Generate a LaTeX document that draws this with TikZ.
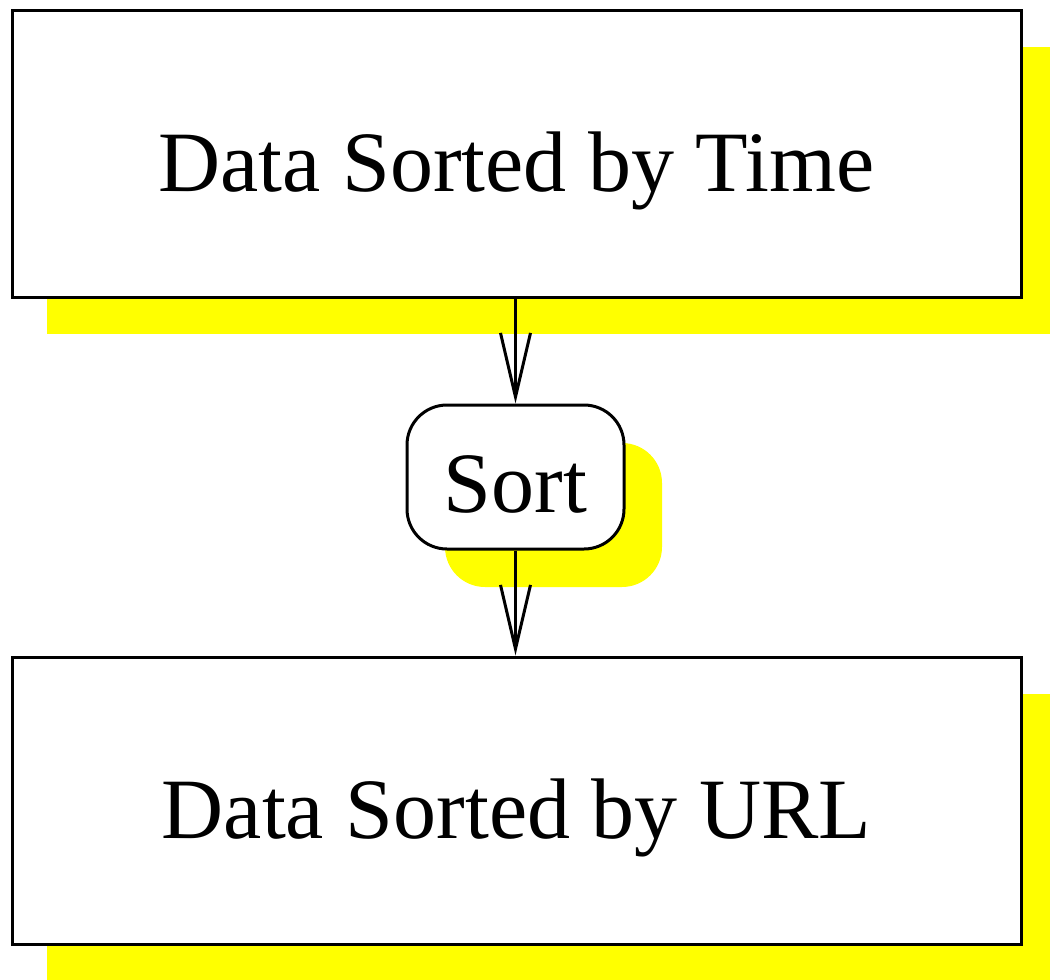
\documentclass[tikz,border=0pt]{standalone}
\usepackage{fontspec}
\setmainfont{Liberation Serif}
\usetikzlibrary{arrows.meta,shadows}
\definecolor{shadowyellow}{RGB}{255,255,0}
\begin{document}
\begin{tikzpicture}[x=0.75pt,y=-0.75pt,
  every node/.style={line width=2.25pt, draw=black, fill=white, inner sep=0pt,
    font=\fontsize{64.5}{70}\selectfont},
  databox/.style={rectangle, minimum width=756.75pt, minimum height=215.25pt,
    text height=57pt, text depth=0pt,
    drop shadow={shadow xshift=26.25pt, shadow yshift=-27.75pt, fill=shadowyellow, opacity=1}},
  procbox/.style={rectangle, rounded corners=30pt, minimum width=162.75pt, minimum height=108pt,
    text height=52.5pt, text depth=0pt,
    drop shadow={shadow xshift=28.5pt, shadow yshift=-28.5pt, fill=shadowyellow, opacity=1}},
  flow/.style={line width=2.25pt, -{Straight Barb[length=48pt, width=22.5pt, line width=2.25pt]}}
]
\useasboundingbox (0,0) rectangle (1050,979);
\node[databox] (time) at (516.5,153.5) {Data Sorted by Time};
\node[procbox] (sort) at (515.5,477) {Sort};
\node[databox] (url) at (516.5,800.5) {Data Sorted by URL};
\draw[flow] (time.south -| sort.north) -- (sort.north);
\draw[flow] (sort.south) -- (url.north -| sort.south);
\end{tikzpicture}
\end{document}
